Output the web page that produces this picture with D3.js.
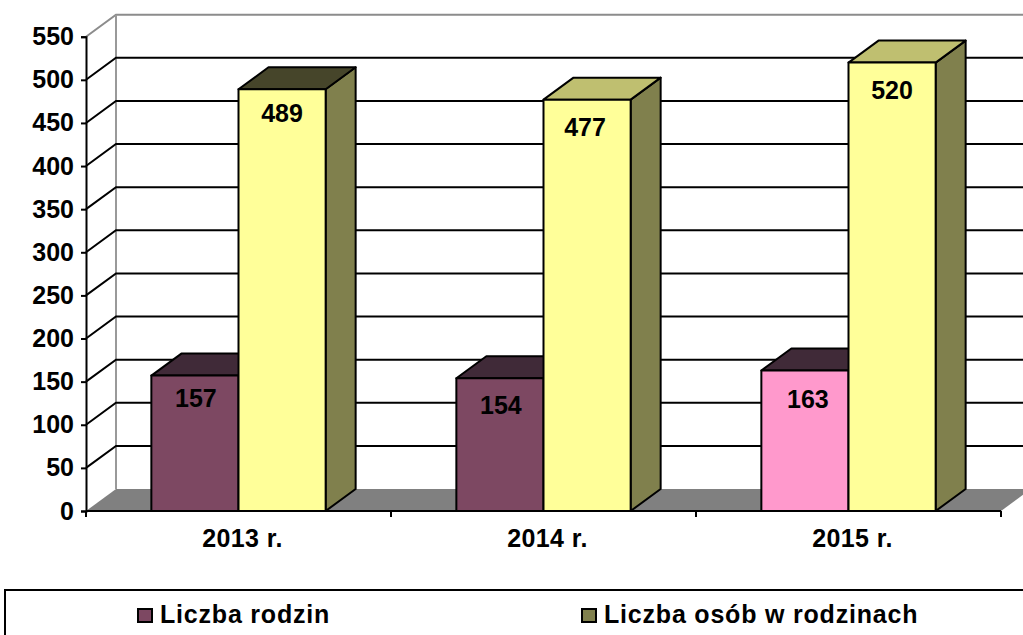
<!DOCTYPE html>
<html>
<head>
<meta charset="utf-8">
<script src="https://cdnjs.cloudflare.com/ajax/libs/d3/7.8.5/d3.min.js"></script>
<style>
  html, body { margin: 0; padding: 0; background: #fff; overflow: hidden; }
  text { font-family: "Liberation Sans", Arial, sans-serif; font-weight: bold; fill: #000; }
</style>
</head>
<body>
<div id="chart"></div>
<script>
const categories = ['2013 r.', '2014 r.', '2015 r.'];
const seriesNames = ['Liczba rodzin', 'Liczba osób w rodzinach'];
const families = [157, 154, 163];
const people = [489, 477, 520];
const yTicks = [0, 50, 100, 150, 200, 250, 300, 350, 400, 450, 500, 550];

const width = 1023;
const height = 635;
const depth = { x: 30, y: 22 };

const svg = d3.select('#chart')
  .append('svg')
  .attr('width', width)
  .attr('height', height)
  .style('display', 'block');

const x = d3.scaleBand()
  .domain(categories)
  .range([86, 1001]);

const xInner = d3.scaleBand()
  .domain(seriesNames)
  .range([0, x.bandwidth()])
  .paddingOuter(0.75)
  .paddingInner(0);

const y = d3.scaleLinear()
  .domain([0, 550])
  .range([511, 36.7]);

// front colours, 2015 families bar is pink in the original
const colours = [
  { front: ['#7d4862', '#7d4862', '#ff99cc'], top: ['#402a38', '#402a38', '#402a38'], side: '#5a3346' },
  { front: ['#ffff99', '#ffff99', '#ffff99'], top: ['#46452a', '#bfbf70', '#bfbf70'], side: '#80804d' }
];

// value labels were placed by hand in the original, so they are not all the same distance from the bar top
const labelNudge = [
  [{ dx: 1, dy: 31 }, { dx: 1, dy: 36 }, { dx: 3, dy: 38 }],
  [{ dx: 0, dy: 33 }, { dx: -2, dy: 36 }, { dx: 0, dy: 36 }]
];

const left = x.range()[0];
const right = x.range()[1];

// floor
svg.append('polygon')
  .attr('points', [
    [left, y(0)],
    [left + depth.x, y(0) - depth.y],
    [right + depth.x, y(0) - depth.y],
    [right, y(0)]
  ].join(' '))
  .attr('fill', '#808080');

// back wall edges
svg.append('path')
  .attr('d', `M${left},${y(550)}L${left + depth.x},${y(550) - depth.y}L${right + depth.x},${y(550) - depth.y}`)
  .attr('fill', 'none')
  .attr('stroke', '#8c8c8c')
  .attr('stroke-width', 2);
svg.append('line')
  .attr('x1', left + depth.x)
  .attr('x2', left + depth.x)
  .attr('y1', y(550) - depth.y)
  .attr('y2', y(0) - depth.y)
  .attr('stroke', '#999')
  .attr('stroke-width', 2);

// gridlines, running along the side wall and then the back wall
svg.selectAll('.grid')
  .data(yTicks.filter(d => d > 0 && d < 550))
  .enter().append('path')
  .attr('class', 'grid')
  .attr('d', d => `M${left},${y(d)}L${left + depth.x},${y(d) - depth.y}L${right + depth.x},${y(d) - depth.y}`)
  .attr('fill', 'none')
  .attr('stroke', '#000')
  .attr('stroke-width', 2);

const yAxis = svg.append('g')
  .attr('transform', `translate(${left},0)`)
  .call(d3.axisLeft(y).tickValues(yTicks).tickSize(5).tickPadding(7));

const xAxis = svg.append('g')
  .attr('transform', `translate(0,${y(0)})`)
  .call(d3.axisBottom(x).tickSize(0).tickPadding(18));

[yAxis, xAxis].forEach(axis => {
  axis.selectAll('path, line').attr('stroke', '#000').attr('stroke-width', 2);
  axis.selectAll('text').style('font-size', '25px').attr('fill', '#000');
});

xAxis.selectAll('text')
  .attr('dx', 4)
  .style('letter-spacing', '0.4px');

xAxis.select('.domain').attr('d', `M${left},0H${right}`);

// tick marks sit between the categories
svg.selectAll('.xtick')
  .data([...categories.map(c => x(c)), right])
  .enter().append('line')
  .attr('class', 'xtick')
  .attr('x1', d => d)
  .attr('x2', d => d)
  .attr('y1', y(0))
  .attr('y2', y(0) + 6)
  .attr('stroke', '#000')
  .attr('stroke-width', 2);

const bars = [];
seriesNames.forEach((name, s) => {
  const values = s === 0 ? families : people;
  categories.forEach((cat, i) => bars.push({ name, s, i, cat, value: values[i] }));
});

const groups = svg.selectAll('.bar')
  .data(bars)
  .enter().append('g')
  .attr('class', 'bar')
  .attr('stroke', '#000')
  .attr('stroke-width', 2)
  .attr('stroke-linejoin', 'round');

groups.append('polygon')
  .attr('points', d => {
    const x1 = x(d.cat) + xInner(d.name) + xInner.bandwidth();
    return [[x1, y(d.value)], [x1 + depth.x, y(d.value) - depth.y], [x1 + depth.x, y(0) - depth.y], [x1, y(0)]].join(' ');
  })
  .attr('fill', d => colours[d.s].side);

groups.append('polygon')
  .attr('points', d => {
    const x0 = x(d.cat) + xInner(d.name);
    const x1 = x0 + xInner.bandwidth();
    const t = y(d.value);
    return [[x0, t], [x0 + depth.x, t - depth.y], [x1 + depth.x, t - depth.y], [x1, t]].join(' ');
  })
  .attr('fill', d => colours[d.s].top[d.i]);

groups.append('rect')
  .attr('x', d => x(d.cat) + xInner(d.name))
  .attr('y', d => y(d.value))
  .attr('width', xInner.bandwidth())
  .attr('height', d => y(0) - y(d.value))
  .attr('fill', d => colours[d.s].front[d.i]);

svg.selectAll('.value')
  .data(bars)
  .enter().append('text')
  .attr('class', 'value')
  .attr('x', d => x(d.cat) + xInner(d.name) + xInner.bandwidth() / 2 + labelNudge[d.s][d.i].dx)
  .attr('y', d => y(d.value) + labelNudge[d.s][d.i].dy)
  .attr('text-anchor', 'middle')
  .style('font-size', '25px')
  .text(d => d.value);

// legend
svg.append('rect')
  .attr('x', 5)
  .attr('y', 590)
  .attr('width', 1030)
  .attr('height', 60)
  .attr('fill', '#fff')
  .attr('stroke', '#000')
  .attr('stroke-width', 2);

const legendX = d3.scaleOrdinal().domain(seriesNames).range([138, 582]);
const legendFill = d3.scaleOrdinal().domain(seriesNames).range(['#7d4862', '#80804d']);

const legend = svg.selectAll('.legend')
  .data(seriesNames)
  .enter().append('g')
  .attr('class', 'legend')
  .attr('transform', d => `translate(${legendX(d)},609)`);

legend.append('rect')
  .attr('width', 14)
  .attr('height', 13)
  .attr('fill', d => legendFill(d))
  .attr('stroke', '#000')
  .attr('stroke-width', 2);

legend.append('text')
  .attr('x', 22)
  .attr('y', 14)
  .style('font-size', '25px')
  .style('letter-spacing', '0.8px')
  .text(d => d);
</script>
</body>
</html>
